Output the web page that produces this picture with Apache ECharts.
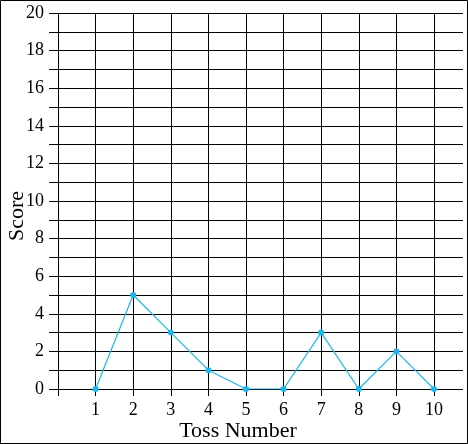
<!DOCTYPE html>
<html><head><meta charset="utf-8">
<script src="https://cdn.jsdelivr.net/npm/echarts@6/dist/echarts.min.js"></script>
<style>html,body{margin:0;padding:0;background:#fff}#c{width:468px;height:444px}</style>
</head><body><div id="c"></div>
<script>
const tosses = [1,2,3,4,5,6,7,8,9,10];
const scores = [0,5,3,1,0,0,3,0,2,0];
const yTickLabels = ['0','2','4','6','8','10','12','14','16','18','20'];
const xTitle = 'Toss Number';
const yTitle = 'Score';

const font = '"Liberation Serif", "Times New Roman", serif';
const chart = echarts.init(document.getElementById('c'));
chart.setOption({
  animation: false,
  grid: [
    {left: 58, right: 5, top: 13, bottom: 55, outerBoundsMode: 'none', containLabel: false},
    {left: 58, right: 34, top: 13, bottom: 55, outerBoundsMode: 'none', containLabel: false}
  ],
  xAxis: [
    {gridIndex: 0, type: 'value', min: 0, max: 1, show: false},
    {gridIndex: 1, type: 'value', min: 0, max: 10, interval: 1,
     axisLine: {show: true, lineStyle: {color: '#000', width: 1}},
     axisTick: {show: true, length: 7, lineStyle: {color: '#000', width: 1}},
     splitLine: {show: true, lineStyle: {color: '#000', width: 1}},
     axisLabel: {color: '#000', fontFamily: font, fontSize: 18, margin: 12,
       formatter: v => tosses.includes(v) ? String(v) : ''}}
  ],
  yAxis: [
    {gridIndex: 0, type: 'value', min: 0, max: 20, interval: 1,
     axisLine: {show: false},
     axisTick: {show: true, length: 9, lineStyle: {color: '#000', width: 1}},
     splitLine: {show: true, lineStyle: {color: '#000', width: 1}},
     axisLabel: {color: '#000', fontFamily: font, fontSize: 18, margin: 14,
       formatter: v => yTickLabels.includes(String(v)) ? String(v) : ''}},
    {gridIndex: 1, type: 'value', min: 0, max: 20, show: false}
  ],
  series: [{
    type: 'line', xAxisIndex: 1, yAxisIndex: 1,
    data: tosses.map((t, i) => [t, scores[i]]),
    symbol: 'circle', symbolSize: 6,
    lineStyle: {color: '#1bb6ee', width: 1.2},
    itemStyle: {color: '#1bb6ee'}
  }],
  graphic: [
    {type: 'rect', shape: {x: 0.5, y: 0.5, width: 467, height: 443},
     style: {fill: 'none', stroke: '#000', lineWidth: 1}, silent: true},
    {type: 'text', x: 238, y: 431,
     style: {text: xTitle, fill: '#000', font: '22px ' + font, align: 'center', verticalAlign: 'middle'}},
    {type: 'text', x: 17, y: 216, rotation: Math.PI / 2,
     style: {text: yTitle, fill: '#000', font: '22px ' + font, align: 'center', verticalAlign: 'middle'}}
  ]
});
</script></body></html>
